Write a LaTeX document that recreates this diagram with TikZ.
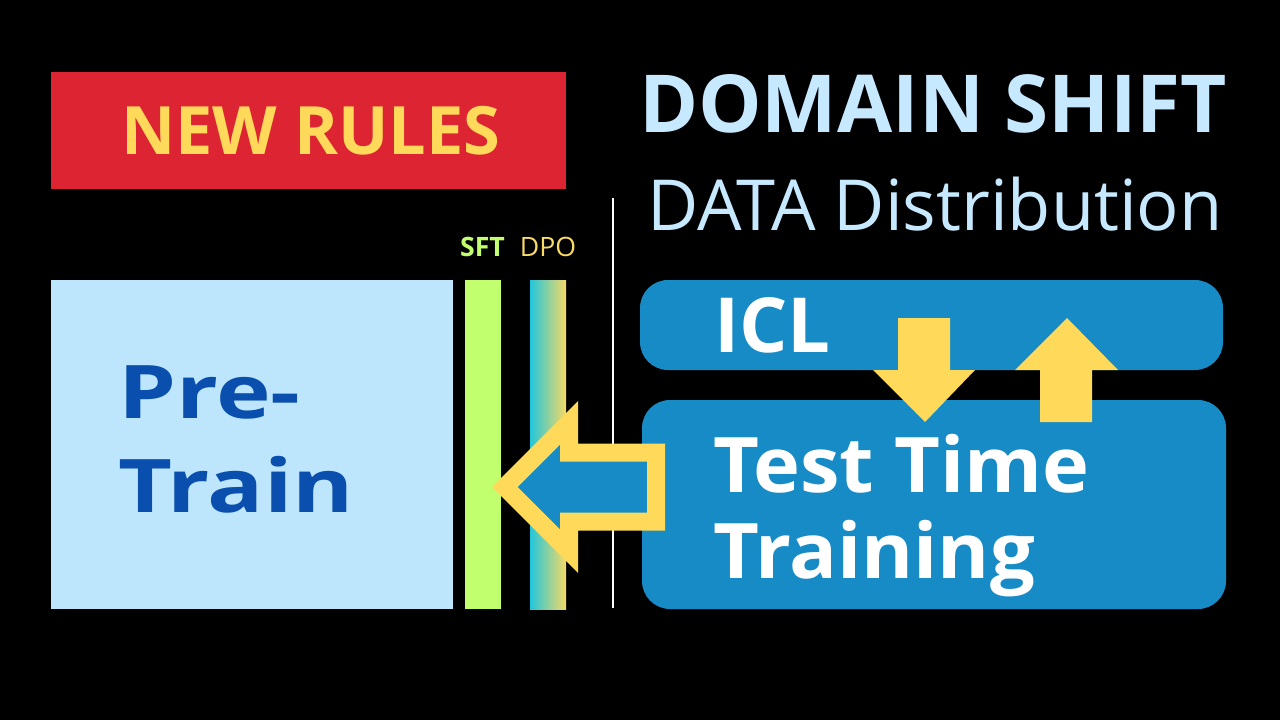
\documentclass[tikz,border=0pt]{standalone}
\usepackage{fontspec}
\usepackage{graphicx}
\setmainfont{Open Sans}
\definecolor{redbox}{HTML}{DC2433}
\definecolor{yel}{HTML}{FFD95A}
\definecolor{titleblue}{HTML}{C6E9FF}
\definecolor{ptbox}{HTML}{BDE6FC}
\definecolor{darkblue}{HTML}{0A4FAD}
\definecolor{boxblue}{HTML}{168BC6}
\definecolor{sftgreen}{HTML}{C2FF6E}
\definecolor{dpoteal}{HTML}{22C6DA}
\definecolor{dpoyel}{HTML}{F8DA66}
\tikzset{
  txt/.style={inner sep=0pt, outer sep=0pt},
  rbox/.style={fill=boxblue, rounded corners=21pt},
  yarrow/.style={fill=yel},
  ptfont/.style={font=\bfseries\fontsize{55.5}{71}\selectfont, text=darkblue},
  ttfont/.style={font=\bfseries\fontsize{57.5}{64}\selectfont, text=white},
}
\begin{document}
\begin{tikzpicture}[x=0.75pt,y=-0.75pt]
\fill[black] (0,0) rectangle (1280,720);
\useasboundingbox (0,0) rectangle (1280,720);
% NEW RULES
\fill[redbox] (51,72) rectangle (566,189);
\node[txt, anchor=base, text=yel, font=\bfseries\fontsize{50}{60}\selectfont] (newrules) at (311,155) {NEW RULES};
% titles
\node[txt, anchor=base, text=titleblue, font=\bfseries\fontsize{60}{72}\selectfont] (domain) at (933,133) {DOMAIN SHIFT};
\node[txt, anchor=base, text=titleblue, font=\fontsize{52.8}{63}\selectfont] (data) at (935,230) {DATA Distribution};
% white divider
\draw[white, line width=2.2pt] (613,198) -- (613,608);
% Pre-Train box
\fill[ptbox] (51,280) rectangle (453,609);
\node[txt, anchor=base west, ptfont] (pre) at (118,418) {\scalebox{1.25}[1]{Pre-}};
\node[txt, anchor=base west, ptfont] (train) at (118,512) {\scalebox{1.26}[1]{Train}};
% SFT & DPO bars
\fill[sftgreen] (465,280) rectangle (501,609);
\shade[left color=dpoteal, right color=dpoyel] (530,280) rectangle (566,609);
\node[txt, anchor=base, text=sftgreen, font=\bfseries\fontsize{20}{24}\selectfont] (sft) at (482.5,257) {SFT};
\node[txt, anchor=base, text=dpoyel, font=\fontsize{20}{24}\selectfont] (dpo) at (548,257) {DPO};
% ICL box
\fill[rbox] (640,280) rectangle (1223,370);
\node[txt, anchor=base west, text=white, font=\bfseries\fontsize{57}{68}\selectfont] (icl) at (714,352) {ICL};
% Test Time Training box
\fill[rbox] (642,400) rectangle (1226,609);
\node[txt, anchor=base west, ttfont] (tt) at (713,492) {\scalebox{1.035}[1]{Test Time}};
\node[txt, anchor=base west, ttfont] (tr) at (713,578) {\scalebox{1.035}[1]{Training}};
% up/down arrows
\fill[yarrow] (898,318) -- (950,318) -- (950,370) -- (975,370) -- (925,422) -- (873,370) -- (898,370) -- cycle;
\fill[yarrow] (1067,318) -- (1118,370) -- (1092,370) -- (1092,422) -- (1040,422) -- (1040,370) -- (1015,370) -- cycle;
% big left arrow
\draw[fill=boxblue, draw=yel, line width=13.5pt, miter limit=10] (504.8,487) -- (569,422.8) -- (569,452.5) -- (656,452.5) -- (656,521.5) -- (569,521.5) -- (569,551.2) -- cycle;
\end{tikzpicture}
\end{document}
